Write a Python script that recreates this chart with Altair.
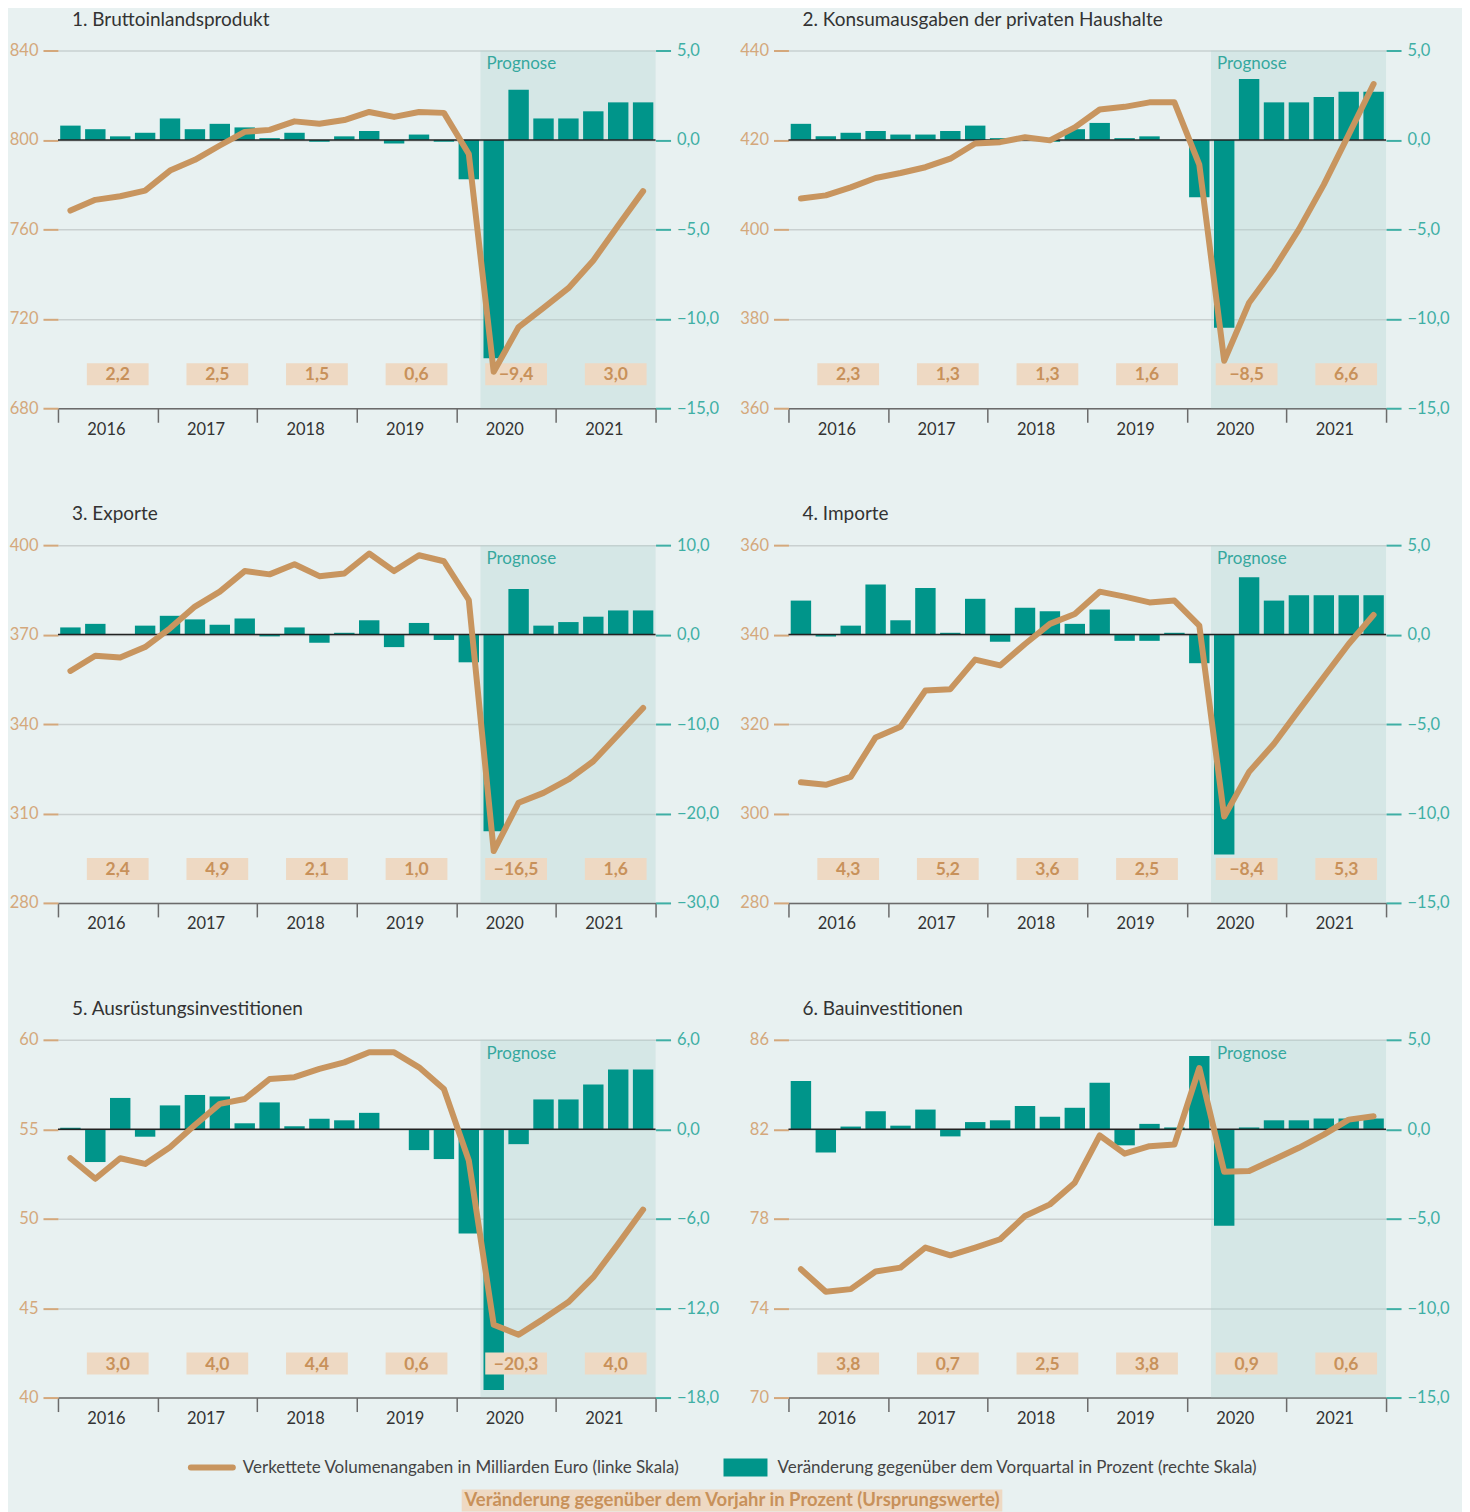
import altair as alt
import pandas as pd

# ---------------- data ----------------
years = ["2016", "2017", "2018", "2019", "2020", "2021"]
quarters = list(range(24))
prognose_start = 17  # 2020 Q2

titles = [
    "1. Bruttoinlandsprodukt",
    "2. Konsumausgaben der privaten Haushalte",
    "3. Exporte",
    "4. Importe",
    "5. Ausrüstungsinvestitionen",
    "6. Bauinvestitionen",
]

bip_level = [768.4, 773.2, 774.8, 777.3, 786.3, 791.1, 797.5, 803.6, 804.5, 808.3, 807.2, 808.9,
             812.5, 810.3, 812.5, 812.1, 793.7, 696.3, 716.3, 724.9, 733.7, 746.1, 761.7, 777.1]
bip_change = [0.8, 0.6, 0.2, 0.4, 1.2, 0.6, 0.9, 0.7, 0.1, 0.4, -0.1, 0.2,
              0.5, -0.2, 0.3, -0.1, -2.2, -12.2, 2.8, 1.2, 1.2, 1.6, 2.1, 2.1]
bip_annual = ["2,2", "2,5", "1,5", "0,6", "−9,4", "3,0"]

konsum_level = [406.9, 407.6, 409.4, 411.5, 412.6, 413.9, 415.8, 419.2, 419.5, 420.6, 419.9, 422.8,
                426.8, 427.4, 428.4, 428.4, 414.5, 370.6, 383.6, 391.2, 400.0, 410.0, 421.2, 432.5]
konsum_change = [0.9, 0.2, 0.4, 0.5, 0.3, 0.3, 0.5, 0.8, 0.1, 0.0, -0.1, 0.6,
                 0.95, 0.1, 0.2, 0.0, -3.2, -10.5, 3.4, 2.1, 2.1, 2.4, 2.7, 2.7]
konsum_annual = ["2,3", "1,3", "1,3", "1,6", "−8,5", "6,6"]

export_level = [357.8, 362.9, 362.3, 365.8, 372.1, 379.4, 384.4, 391.3, 390.2, 393.6, 389.6, 390.5,
                397.2, 391.3, 396.6, 394.6, 381.6, 297.4, 313.6, 316.9, 321.4, 327.5, 336.4, 345.4]
export_change = [0.8, 1.2, 0.0, 1.0, 2.1, 1.7, 1.1, 1.8, -0.2, 0.8, -0.9, 0.2,
                 1.6, -1.4, 1.3, -0.6, -3.1, -22.0, 5.1, 1.0, 1.4, 2.0, 2.7, 2.7]
export_annual = ["2,4", "4,9", "2,1", "1,0", "−16,5", "1,6"]

import_level = [307.0, 306.4, 308.2, 317.0, 319.4, 327.5, 327.8, 334.4, 333.1, 337.9, 342.4, 344.6,
                349.6, 348.5, 347.2, 347.6, 342.0, 299.3, 309.3, 315.6, 323.1, 330.5, 337.9, 344.4]
import_change = [1.9, -0.1, 0.5, 2.8, 0.8, 2.6, 0.1, 2.0, -0.4, 1.5, 1.3, 0.6,
                 1.4, -0.35, -0.35, 0.1, -1.6, -12.3, 3.2, 1.9, 2.2, 2.2, 2.2, 2.2]
import_annual = ["4,3", "5,2", "3,6", "2,5", "−8,4", "5,3"]

ausr_level = [53.38, 52.23, 53.38, 53.06, 53.99, 55.24, 56.42, 56.69, 57.81, 57.91, 58.37, 58.74,
              59.30, 59.30, 58.46, 57.25, 53.25, 44.07, 43.51, 44.40, 45.34, 46.73, 48.59, 50.51]
ausr_change = [0.1, -2.2, 2.1, -0.5, 1.6, 2.3, 2.2, 0.4, 1.8, 0.2, 0.7, 0.6,
               1.1, 0.0, -1.4, -2.0, -7.0, -17.5, -1.0, 2.0, 2.0, 3.0, 4.0, 4.0]
ausr_annual = ["3,0", "4,0", "4,4", "0,6", "−20,3", "4,0"]

bau_level = [75.74, 74.73, 74.85, 75.64, 75.81, 76.71, 76.36, 76.71, 77.08, 78.12, 78.64, 79.61,
             81.72, 80.91, 81.24, 81.32, 84.74, 80.10, 80.13, 80.65, 81.17, 81.76, 82.43, 82.58]
bau_change = [2.7, -1.3, 0.15, 1.0, 0.2, 1.1, -0.4, 0.4, 0.5, 1.3, 0.7, 1.2,
              2.6, -0.9, 0.3, 0.1, 4.1, -5.4, 0.1, 0.5, 0.5, 0.6, 0.6, 0.6]
bau_annual = ["3,8", "0,7", "2,5", "3,8", "0,9", "0,6"]

left_ticks = [
    [680, 720, 760, 800, 840],
    [360, 380, 400, 420, 440],
    [280, 310, 340, 370, 400],
    [280, 300, 320, 340, 360],
    [40, 45, 50, 55, 60],
    [70, 74, 78, 82, 86],
]
right_ticks = [
    [-15, -10, -5, 0, 5],
    [-15, -10, -5, 0, 5],
    [-30, -20, -10, 0, 10],
    [-15, -10, -5, 0, 5],
    [-18, -12, -6, 0, 6],
    [-15, -10, -5, 0, 5],
]

legend_line_text = "Verkettete Volumenangaben in Milliarden Euro (linke Skala)"
legend_bar_text = "Veränderung gegenüber dem Vorquartal in Prozent (rechte Skala)"
legend_box_text = "Veränderung gegenüber dem Vorjahr in Prozent (Ursprungswerte)"

# ---------------- style ----------------
BG = "#E8F1F1"
TEAL = "#00958A"
TAN = "#C8955F"
BOX = "#EED9C3"
LABEL = "#C8915A"
LEFTC = "#D4A87C"
RIGHTC = "#3FAFA5"
PROG = "#35A89E"
GRID = "#C9D0D0"
AXC = "#6B6B6B"
FONT = "Lato"
W, H = 598, 358


def make_panel(title, level, change, annual, lticks, rticks, extra=()):
    df = pd.DataFrame({"q": quarters, "level": level, "change": change})
    df["xc"] = df["q"] + 0.5
    df["x0"] = df["q"] + 0.09
    df["x1"] = df["q"] + 0.91
    df["zero"] = 0.0
    ann = pd.DataFrame({"label": annual, "xc": [4 * i + 2.4 for i in range(len(years))]})
    ann["x0"] = ann["xc"] - 1.24
    ann["x1"] = ann["xc"] + 1.24
    shade_df = pd.DataFrame({"s": [prognose_start - 0.03], "e": [24], "t": ["Prognose"]})

    xs = alt.Scale(domain=[0, 24], nice=False, zero=False)
    xaxis = alt.Axis(
        values=[0, 4, 8, 12, 16, 20, 24],
        labelExpr="datum.value < 24 ? toString(2016 + datum.value / 4) : ''",
        tickSize=14, tickColor=AXC, tickWidth=1.5,
        domainColor=AXC, domainWidth=1.5,
        labelColor="#333333", labelFontSize=16.5, labelFont=FONT,
        labelOffset=48, labelPadding=-1, labelFlush=False,
        labelOverlap=False, labelBound=False, grid=False, title=None,
    )
    ls = alt.Scale(domain=[lticks[0], lticks[-1]], nice=False, zero=False)
    rs = alt.Scale(domain=[rticks[0], rticks[-1]], nice=False, zero=False)
    laxis = alt.Axis(
        values=lticks, orient="left", format="d", title=None,
        tickSize=15, tickColor=LEFTC, tickWidth=2, domain=False,
        labelColor=LEFTC, labelFontSize=16.5, labelFont=FONT, labelPadding=5,
        grid=True, gridColor=GRID, gridWidth=1.5,
    )
    raxis = alt.Axis(
        values=rticks, orient="right", title=None,
        labelExpr="replace(replace(format(datum.value, '.1f'), '.', ','), '-', '−')",
        tickSize=15, tickColor=RIGHTC, tickWidth=2, domain=False,
        labelColor=RIGHTC, labelFontSize=16.5, labelFont=FONT, labelPadding=6,
        grid=False,
    )

    def X(f):
        return alt.X(f + ":Q", scale=xs, axis=xaxis)

    shade = alt.Chart(shade_df).mark_rect(color="#B2D4D2", opacity=0.35).encode(
        x=X("s"), x2="e", y=alt.value(0), y2=alt.value(H))
    bars = alt.Chart(df).mark_rect(color=TEAL).encode(
        x=X("x0"), x2="x1", y=alt.Y("change:Q", scale=rs, axis=raxis), y2="zero")
    zero = alt.Chart(pd.DataFrame({"z": [0.0]})).mark_rule(color="#222222", strokeWidth=1.5).encode(
        y=alt.Y("z:Q", scale=rs, axis=None))
    boxes = alt.Chart(ann).mark_rect(color=BOX).encode(
        x=X("x0"), x2="x1", y=alt.value(313), y2=alt.value(335))
    btext = alt.Chart(ann).mark_text(fontWeight="bold", fontSize=17.5, color=LABEL,
                                     baseline="middle", font=FONT).encode(
        x=X("xc"), y=alt.value(325), text="label:N")
    prog = alt.Chart(shade_df).mark_text(align="left", baseline="middle", dx=6,
                                         color=PROG, fontSize=17, font=FONT).encode(
        x=X("s"), y=alt.value(14), text="t:N")
    line = alt.Chart(df).mark_line(color=TAN, strokeWidth=6, strokeCap="round",
                                   strokeJoin="round").encode(
        x=X("xc"), y=alt.Y("level:Q", scale=ls, axis=laxis))

    return alt.layer(shade, bars, zero, boxes, btext, prog, line, *extra).resolve_scale(
        y="independent"
    ).properties(
        width=W, height=H,
        title=alt.TitleParams(text=title, anchor="start", frame="group", dx=14,
                              fontSize=19, font=FONT, fontWeight="normal",
                              color="#333333", offset=13),
    )


# custom legend (drawn under panel 5)
one = pd.DataFrame({"a": [0]})
leg = [
    alt.Chart(one).mark_rule(color=TAN, strokeWidth=6, strokeCap="round").encode(
        x=alt.value(133), x2=alt.value(175), y=alt.value(428)),
    alt.Chart(one).mark_text(align="left", baseline="middle", fontSize=17, color="#444444",
                             font=FONT).encode(
        x=alt.value(185), y=alt.value(428), text=alt.value(legend_line_text)),
    alt.Chart(one).mark_rect(color=TEAL).encode(
        x=alt.value(666), x2=alt.value(710), y=alt.value(419), y2=alt.value(437)),
    alt.Chart(one).mark_text(align="left", baseline="middle", fontSize=17, color="#444444",
                             font=FONT).encode(
        x=alt.value(720), y=alt.value(428), text=alt.value(legend_bar_text)),
    alt.Chart(one).mark_rect(color=BOX).encode(
        x=alt.value(404), x2=alt.value(945), y=alt.value(450), y2=alt.value(472)),
    alt.Chart(one).mark_text(align="center", baseline="middle", fontSize=18.5, fontWeight="bold",
                             color=LABEL, font=FONT).encode(
        x=alt.value(674.5), y=alt.value(461), text=alt.value(legend_box_text)),
]

panels = [
    make_panel(titles[0], bip_level, bip_change, bip_annual, left_ticks[0], right_ticks[0]),
    make_panel(titles[1], konsum_level, konsum_change, konsum_annual, left_ticks[1], right_ticks[1]),
    make_panel(titles[2], export_level, export_change, export_annual, left_ticks[2], right_ticks[2]),
    make_panel(titles[3], import_level, import_change, import_annual, left_ticks[3], right_ticks[3]),
    make_panel(titles[4], ausr_level, ausr_change, ausr_annual, left_ticks[4], right_ticks[4], extra=leg),
    make_panel(titles[5], bau_level, bau_change, bau_annual, left_ticks[5], right_ticks[5]),
]

chart = alt.concat(
    *panels, columns=2, spacing={"row": 137, "column": 133}, bounds="flush"
).configure(
    background=BG,
    padding={"left": 1, "top": 2, "right": 12, "bottom": 0},
    font=FONT,
).configure_view(stroke=None)

chart.save("out.html", embed_options={"renderer": "svg", "actions": False})
